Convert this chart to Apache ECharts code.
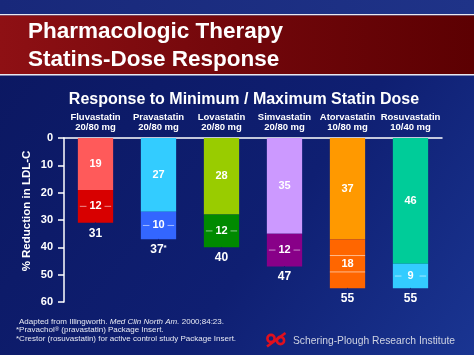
<!DOCTYPE html>
<html>
<head>
<meta charset="utf-8">
<script src="https://cdn.jsdelivr.net/npm/echarts@6/dist/echarts.min.js"></script>
<style>
html,body{margin:0;padding:0;background:#0e1c6c;}
#chart{width:474px;height:355px;}
</style>
</head>
<body>
<div id="chart"></div>
<script>
// ---- data ----
const drugs = ['Fluvastatin', 'Pravastatin', 'Lovastatin', 'Simvastatin', 'Atorvastatin', 'Rosuvastatin'];
const doses = ['20/80 mg', '20/80 mg', '20/80 mg', '20/80 mg', '10/80 mg', '10/40 mg'];
const minDoseReduction = [19, 27, 28, 35, 37, 46];
const extraAtMaxDose = [12, 10, 12, 12, 18, 9];
const totalMarks = ['', '*', '', '', '', ''];
const doseLineCategory = [0, 1, 2, 3, 4, 4, 5];
const doseLineValue = [25, 32, 34, 41, 43, 49, 50.5];
const yTicks = [0, 10, 20, 30, 40, 50, 60];

const minColors = ['#ff5a5a', '#33ccff', '#99cc00', '#cc99ff', '#ff9900', '#00cc99'];
const maxColors = ['#d80000', '#3366ff', '#008a00', '#880088', '#ff6600', '#33ccff'];

const FONT = '"Liberation Sans", Arial, sans-serif';
const categories = drugs.map((d, i) => d + '\n' + doses[i]);
const totals = minDoseReduction.map((v, i) => v + extraAtMaxDose[i]);

const chart = echarts.init(document.getElementById('chart'), null, {renderer: 'canvas'});

const labelStyle = {show: true, position: 'inside', color: '#ffffff', fontFamily: FONT, fontWeight: 'bold', fontSize: 11};

const option = {
  animation: false,
  grid: {left: 64, top: 138, right: 32, bottom: 53, containLabel: false},
  xAxis: {
    type: 'category',
    data: categories,
    position: 'top',
    axisLine: {show: true, lineStyle: {color: '#ffffff', width: 1.5}},
    axisTick: {show: false},
    axisLabel: {color: '#ffffff', fontFamily: FONT, fontWeight: 'bold', fontSize: 9.5, lineHeight: 10.5, margin: 5, interval: 0}
  },
  yAxis: {
    type: 'value',
    inverse: true,
    min: yTicks[0],
    max: yTicks[yTicks.length - 1],
    interval: 10,
    axisLine: {show: true, lineStyle: {color: '#ffffff', width: 1.5}},
    axisTick: {show: true, length: 6, lineStyle: {color: '#ffffff', width: 1.5}},
    splitLine: {show: false},
    axisLabel: {color: '#ffffff', fontFamily: FONT, fontWeight: 'bold', fontSize: 11, margin: 11}
  },
  series: [
    {
      type: 'bar',
      stack: 'ldl',
      barWidth: '56%',
      data: minDoseReduction.map((v, i) => ({value: v, itemStyle: {color: minColors[i]}})),
      label: labelStyle
    },
    {
      type: 'bar',
      stack: 'ldl',
      barWidth: '56%',
      data: extraAtMaxDose.map((v, i) => ({value: v, itemStyle: {color: maxColors[i]}})),
      label: labelStyle
    },
    {
      type: 'custom',
      z: 5,
      data: doseLineCategory.map((c, i) => [c, doseLineValue[i]]),
      renderItem: function (params, api) {
        const c = api.value(0), v = api.value(1);
        const p = api.coord([c, v]);
        const half = api.size([1, 0])[0] * 0.56 / 2;
        const mid = minDoseReduction[c] + extraAtMaxDose[c] / 2;
        const style = {stroke: 'rgba(255,255,255,0.55)', lineWidth: 1};
        if (Math.abs(v - mid) < 0.6) {
          const gap = 9;
          return {type: 'group', children: [
            {type: 'line', shape: {x1: p[0] - half + 2, y1: p[1], x2: p[0] - gap, y2: p[1]}, style: style},
            {type: 'line', shape: {x1: p[0] + gap, y1: p[1], x2: p[0] + half - 2, y2: p[1]}, style: style}
          ]};
        }
        return {type: 'line', shape: {x1: p[0] - half, y1: p[1], x2: p[0] + half, y2: p[1]}, style: style};
      }
    },
    {
      type: 'scatter',
      symbol: 'circle',
      symbolSize: 1,
      z: 6,
      itemStyle: {color: '#0e1c6c', opacity: 1},
      data: totals,
      label: {
        show: true,
        position: 'bottom',
        distance: 4,
        color: '#ffffff',
        opacity: 1,
        formatter: function (p) {
          const m = totalMarks[p.dataIndex];
          return '{a|' + p.value + '}' + (m ? '{s|' + m + '}' : '');
        },
        rich: {
          a: {color: '#ffffff', fontFamily: FONT, fontWeight: 'bold', fontSize: 12},
          s: {color: '#ffffff', fontFamily: FONT, fontWeight: 'bold', fontSize: 8, verticalAlign: 'top', padding: [0, 0, 5, 0]}
        }
      }
    }
  ],
  graphic: [
    {type: 'rect', z: -20, shape: {x: 0, y: 0, width: 474, height: 355},
      style: {fill: new echarts.graphic.LinearGradient(0, 0, 1, 1, [
        {offset: 0, color: '#0b1760'}, {offset: 0.6, color: '#0f1f72'}, {offset: 1, color: '#1a3592'}])}},
    {type: 'rect', z: -19, shape: {x: 0, y: 0, width: 474, height: 14},
      style: {fill: new echarts.graphic.LinearGradient(0, 0, 1, 0, [
        {offset: 0, color: '#18287a'}, {offset: 1, color: '#1f3388'}])}},
    {type: 'rect', z: -18, shape: {x: 0, y: 14, width: 474, height: 1.5}, style: {fill: '#e8e8f0'}},
    {type: 'rect', z: -18, shape: {x: 0, y: 15.5, width: 474, height: 58.5},
      style: {fill: new echarts.graphic.LinearGradient(0, 0, 1, 0, [
        {offset: 0, color: '#8e1014'}, {offset: 0.5, color: '#72070b'}, {offset: 1, color: '#5c0002'}])}},
    {type: 'rect', z: -18, shape: {x: 0, y: 74, width: 474, height: 1.5}, style: {fill: '#e8e8f0'}},
    {type: 'text', x: 28, y: 32, style: {text: 'Pharmacologic Therapy', fill: '#ffffff', font: 'bold 22.5px ' + FONT, verticalAlign: 'middle'}},
    {type: 'text', x: 28, y: 60, style: {text: 'Statins-Dose Response', fill: '#ffffff', font: 'bold 22.5px ' + FONT, verticalAlign: 'middle'}},
    {type: 'text', x: 244, y: 100, style: {text: 'Response to Minimum / Maximum Statin Dose', fill: '#ffffff', font: 'bold 16px ' + FONT, align: 'center', verticalAlign: 'middle'}},
    {type: 'text', x: 27, y: 211, rotation: Math.PI / 2, style: {text: '% Reduction in LDL-C', fill: '#ffffff', font: 'bold 11.5px ' + FONT, align: 'center', verticalAlign: 'middle'}},
    {type: 'text', x: 19, y: 322, style: {
      text: '{n|Adapted from Illingworth. }{i|Med Clin North Am.}{n| 2000;84:23.}',
      verticalAlign: 'middle',
      rich: {n: {fill: '#e6e8f2', font: '8px ' + FONT}, i: {fill: '#e6e8f2', font: 'italic 8px ' + FONT}}}},
    {type: 'text', x: 16, y: 330, style: {
      text: '{n|*Pravachol}{s|®}{n| (pravastatin) Package Insert.}',
      verticalAlign: 'middle',
      rich: {n: {fill: '#e6e8f2', font: '8px ' + FONT}, s: {fill: '#e6e8f2', font: '6px ' + FONT, verticalAlign: 'top'}}}},
    {type: 'text', x: 16, y: 338.5, style: {text: '*Crestor (rosuvastatin) for active control study Package Insert.', fill: '#e6e8f2', font: '8px ' + FONT, verticalAlign: 'middle'}},
    {type: 'circle', shape: {cx: 271, cy: 338.5, r: 3.6}, style: {fill: 'none', stroke: '#e0101e', lineWidth: 2.6}},
    {type: 'circle', shape: {cx: 280.5, cy: 340.5, r: 3.6}, style: {fill: 'none', stroke: '#e0101e', lineWidth: 2.6}},
    {type: 'line', shape: {x1: 267, y1: 346.5, x2: 285.5, y2: 333}, style: {stroke: '#e0101e', lineWidth: 2.6}},
    {type: 'text', x: 293, y: 341, style: {text: 'Schering-Plough Research Institute', fill: '#cfd3e2', font: '10.3px ' + FONT, verticalAlign: 'middle'}}
  ]
};
chart.setOption(option);
</script>
</body>
</html>
